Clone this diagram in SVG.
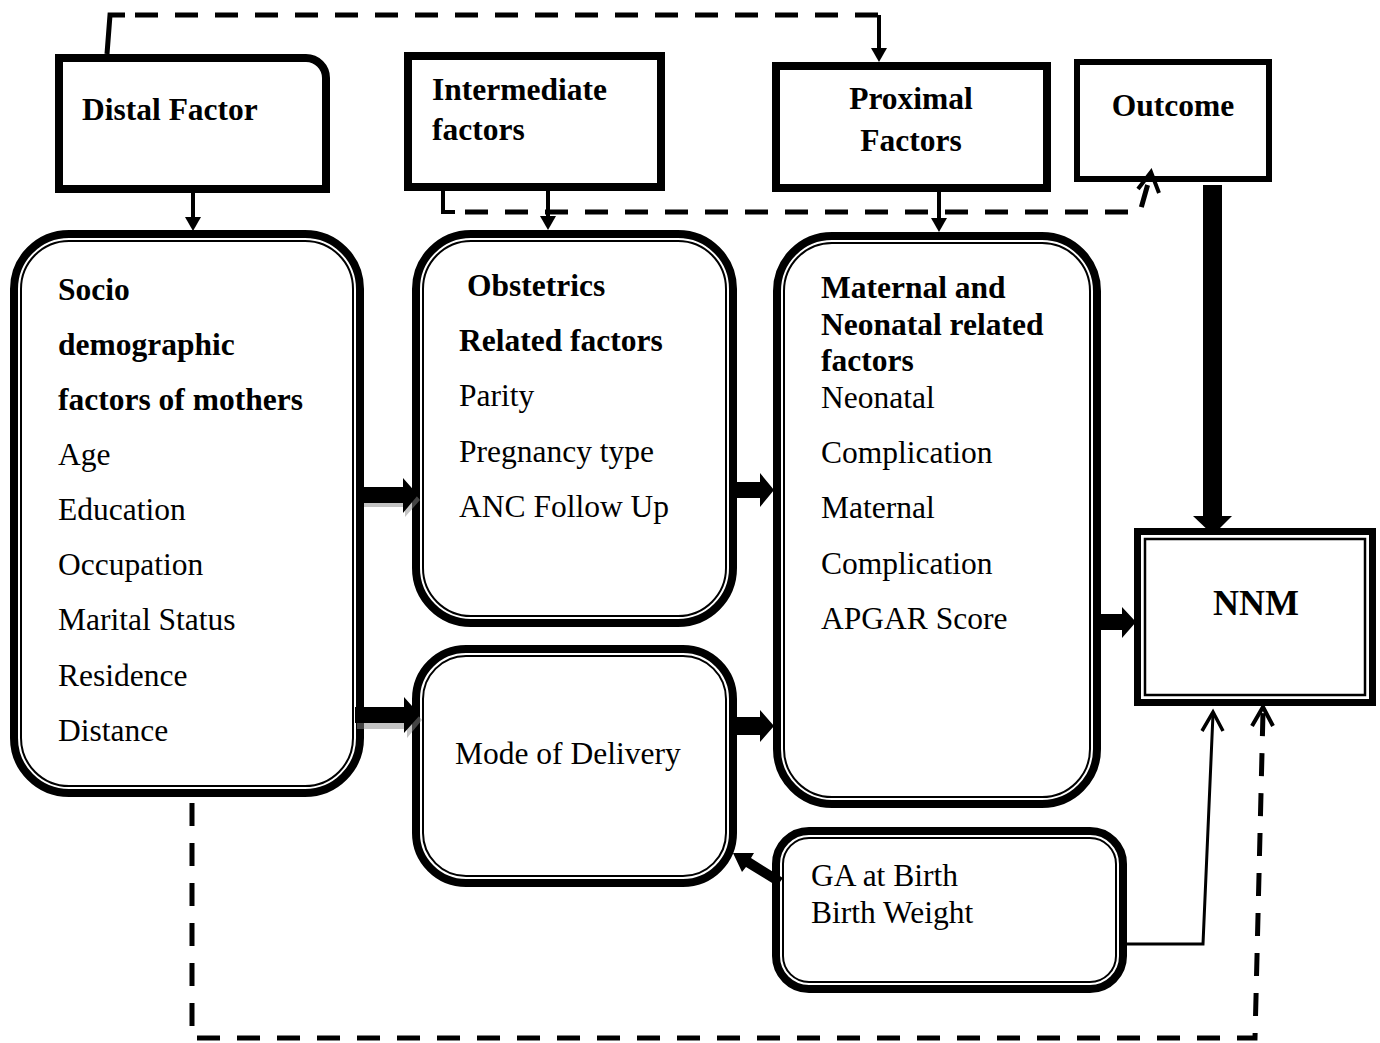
<svg xmlns="http://www.w3.org/2000/svg" width="1380" height="1043" viewBox="0 0 1380 1043">
<defs>
<style>
.t{font-family:"Liberation Serif","Times New Roman",serif;font-size:31.5px;fill:#000}
.b{font-weight:bold}
.thick{fill:none;stroke:#000;stroke-width:8}
.thin{fill:none;stroke:#000;stroke-width:2}
.dash{fill:none;stroke:#000;stroke-width:5;stroke-dasharray:23 17}
.solid{fill:none;stroke:#000;stroke-width:4}
.chev{fill:none;stroke:#000;stroke-width:4;stroke-linejoin:miter}
.blk{fill:#000}
.shd{fill:#888;opacity:0.5}
</style>
</defs>
<rect width="1380" height="1043" fill="#fff"/>

<g id="distal-factor">
<path class="thick" d="M59,58 H306 A20,20 0 0 1 326,78 V189 H59 Z"/>
<text class="t b" x="82" y="120">Distal Factor</text>
</g>

<g id="intermediate-factors">
<rect class="thick" x="408" y="56" width="253" height="131"/>
<text class="t b" x="432" y="100">Intermediate</text>
<text class="t b" x="432" y="140">factors</text>
</g>

<g id="proximal-factors">
<rect class="thick" x="776" y="66" width="271" height="122"/>
<text class="t b" x="911" y="109" text-anchor="middle">Proximal</text>
<text class="t b" x="911" y="151" text-anchor="middle">Factors</text>
</g>

<g id="outcome">
<rect class="thick" style="stroke-width:6" x="1077" y="62" width="192" height="117"/>
<text class="t b" x="1173" y="116" text-anchor="middle">Outcome</text>
</g>

<g id="socio-demographic">
<rect class="thick" x="14" y="234" width="346" height="559" rx="55"/>
<rect class="thin" x="21" y="241" width="332" height="545" rx="48"/>
<text class="t b" x="58" y="300">Socio</text>
<text class="t b" x="58" y="355">demographic</text>
<text class="t b" x="58" y="410">factors of mothers</text>
<text class="t" x="58" y="465">Age</text>
<text class="t" x="58" y="520">Education</text>
<text class="t" x="58" y="575">Occupation</text>
<text class="t" x="58" y="630">Marital Status</text>
<text class="t" x="58" y="686">Residence</text>
<text class="t" x="58" y="741">Distance</text>
</g>

<g id="obstetrics">
<rect class="thick" x="416" y="234" width="317" height="389" rx="55"/>
<rect class="thin" x="423" y="241" width="303" height="375" rx="48"/>
<text class="t b" x="467" y="296">Obstetrics</text>
<text class="t b" x="459" y="351">Related factors</text>
<text class="t" x="459" y="406">Parity</text>
<text class="t" x="459" y="462">Pregnancy type</text>
<text class="t" x="459" y="517">ANC Follow Up</text>
</g>

<g id="mode-of-delivery">
<rect class="thick" x="416" y="649" width="317" height="234" rx="50"/>
<rect class="thin" x="423" y="656" width="303" height="220" rx="43"/>
<text class="t" x="455" y="764">Mode of Delivery</text>
</g>

<g id="maternal-neonatal">
<rect class="thick" x="777" y="236" width="320" height="568" rx="55"/>
<rect class="thin" x="784" y="243" width="306" height="554" rx="48"/>
<text class="t b" x="821" y="298">Maternal and</text>
<text class="t b" x="821" y="335">Neonatal related</text>
<text class="t b" x="821" y="371">factors</text>
<text class="t" x="821" y="408">Neonatal</text>
<text class="t" x="821" y="463">Complication</text>
<text class="t" x="821" y="518">Maternal</text>
<text class="t" x="821" y="574">Complication</text>
<text class="t" x="821" y="629">APGAR Score</text>
</g>

<g id="ga-birth-weight">
<rect class="thick" x="776" y="831" width="347" height="158" rx="33"/>
<rect class="thin" x="783" y="838" width="333" height="144" rx="26"/>
<text class="t" x="811" y="886">GA at Birth</text>
<text class="t" x="811" y="923">Birth Weight</text>
</g>

<g id="nnm">
<rect class="thick" style="stroke-width:7" x="1137.5" y="531.5" width="235" height="171"/>
<rect class="thin" style="stroke-width:2.5" x="1145" y="539" width="220" height="156"/>
<text class="t b" style="font-size:36px" x="1256" y="615" text-anchor="middle">NNM</text>
</g>

<g id="connectors">
<!-- top dashed: distal to proximal -->
<path class="solid" style="stroke-width:5" d="M107,54 L110,15 H125"/>
<path class="dash" d="M135,15 H879"/>
<line class="solid" x1="879" y1="15" x2="879" y2="50"/>
<polygon class="blk" points="871,48 887,48 879,62"/>

<!-- down arrows from headers -->
<line class="solid" x1="193" y1="193" x2="193" y2="219"/>
<polygon class="blk" points="185,217 201,217 193,231"/>
<line class="solid" x1="548" y1="191" x2="548" y2="218"/>
<polygon class="blk" points="540,216 556,216 548,230"/>
<line class="solid" x1="939" y1="192" x2="939" y2="219"/>
<polygon class="blk" points="931,218 947,218 939,232"/>

<!-- intermediate dashed to outcome -->
<path class="solid" d="M443,191 V212 H455"/>
<path class="dash" d="M465,212 H1140 L1149,180"/>
<polyline class="chev" points="1138,189 1151,172 1159,193"/>

<!-- outcome to NNM thick -->
<rect class="blk" x="1203" y="185" width="19" height="333"/>
<polygon class="blk" points="1193,516 1232,516 1213,535"/>

<!-- socio to obstetrics / mode -->
<polygon class="shd" points="364,492 405,492 405,482 420,500 405,517 405,507 364,507"/>
<polygon class="blk" points="362,487 403,487 403,478 418,495 403,513 403,503 362,503"/>
<polygon class="shd" points="357,713 407,713 407,702 422,720 407,738 407,729 357,729"/>
<polygon class="blk" points="355,707 404,707 404,697 420,715 404,733 404,723 355,723"/>

<!-- obstetrics / mode to maternal -->
<polygon class="blk" points="730,482 760,482 760,473 774,490 760,507 760,498 730,498"/>
<polygon class="blk" points="737,717 760,717 760,710 774,726 760,742 760,735 737,735"/>

<!-- maternal to NNM -->
<polygon class="blk" points="1101,614 1122,614 1122,607 1136,622 1122,638 1122,630 1101,630"/>

<!-- GA to mode of delivery -->
<polygon class="blk" points="733,853 754,853 751,858 783,878 777,886 746,867 742,872"/>

<!-- GA to NNM thin -->
<polyline class="solid" style="stroke-width:3" points="1127,944 1203,944 1213,714"/>
<polyline class="chev" style="stroke-width:3.5" points="1202,731 1213,712 1223,731"/>

<!-- bottom dashed: socio to NNM -->
<path class="dash" d="M192,803 V1038 H1255 L1263,712"/>
<polyline class="chev" points="1252,726 1263,707 1273,726"/>
</g>
</svg>
